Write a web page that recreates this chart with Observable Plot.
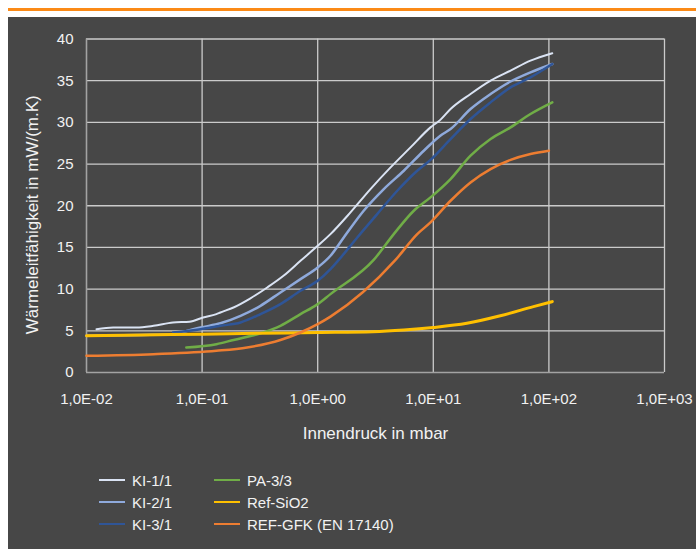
<!DOCTYPE html>
<html>
<head>
<meta charset="utf-8">
<script src="https://cdn.jsdelivr.net/npm/d3@7"></script>
<script src="https://cdn.jsdelivr.net/npm/@observablehq/plot@0.6"></script>
<style>
  body { margin: 0; background: #ffffff; font-family: "Liberation Sans", Arial, sans-serif; }
  #bar { position: absolute; left: 8px; top: 8px; width: 688px; height: 3px; background: #fb8a17; }
  #panel { position: absolute; left: 8px; top: 17px; width: 688px; height: 532px; background: #474747; overflow: hidden; }
  #chart { position: absolute; left: 0; top: 0; }
  #legend { position: absolute; left: 91px; top: 452px; display: grid; grid-template-columns: 115px 220px;
            grid-template-rows: repeat(3, 22px); grid-auto-flow: column; }
  .item { display: flex; align-items: center; color: #f2f2f2; font-size: 15px; white-space: nowrap; }
  .sw { width: 26px; height: 2.5px; margin-right: 7px; flex: none; }
</style>
</head>
<body>
<div id="bar"></div>
<div id="panel">
  <div id="chart"></div>
  <div id="legend"></div>
</div>
<script>
// ---- data (pressure in mbar, thermal conductivity in mW/(m.K)) ----
const seriesNames = ["KI-1/1", "KI-2/1", "KI-3/1", "PA-3/3", "Ref-SiO2", "REF-GFK (EN 17140)"];
const seriesColors = ["#dae3f3", "#8faadc", "#2f5597", "#70ad47", "#ffc000", "#ed7d31"];

const KI_1_1 = [[0.0122,5.2],[0.017,5.4],[0.027,5.4],[0.038,5.6],[0.056,6.0],[0.078,6.1],[0.102,6.6],[0.133,7.0],
  [0.144,7.2],[0.187,7.8],[0.262,8.9],[0.366,10.2],[0.506,11.6],[0.71,13.4],[1.0,15.2],[1.29,16.6],[1.92,19.2],
  [2.86,22.0],[4.27,24.6],[6.35,27.0],[9.46,29.4],[11.5,30.3],[14.1,31.6],[21,33.4],[31.3,35.0],[46.6,36.2],
  [69.3,37.4],[107,38.3]];
const KI_2_1 = [[0.01,4.4],[0.03,4.5],[0.056,4.6],[0.07,4.9],[0.097,5.4],[0.144,5.9],[0.215,6.8],[0.32,8.0],
  [0.476,9.6],[0.71,11.2],[1.0,12.6],[1.29,14.0],[1.68,16.2],[2.5,19.4],[3.73,22.0],[5.56,24.2],[8.28,26.6],
  [11.5,28.4],[14.1,29.2],[21,31.6],[31.3,33.4],[46.6,34.9],[69.3,36.0],[107,37.0]];
const KI_3_1 = [[0.056,4.8],[0.097,5.2],[0.144,5.6],[0.215,6.0],[0.32,7.0],[0.476,8.2],[0.71,9.8],[1.0,11.0],
  [1.29,12.4],[1.52,13.5],[2.2,16.2],[3.27,19.0],[4.88,21.8],[7.26,24.2],[9.46,25.5],[14.1,28.0],[21,30.4],
  [31.3,32.4],[46.6,34.2],[69.3,35.4],[107,37.0]];
const PA_3_3 = [[0.073,3.0],[0.133,3.4],[0.187,3.9],[0.32,4.7],[0.476,5.6],[0.71,7.0],[1.0,8.2],[1.29,9.4],
  [3.05,13.5],[4.55,16.6],[6.78,19.4],[9.46,21.0],[14.1,23.2],[21,26.0],[31.3,28.0],[46.6,29.4],[69.3,31.0],[107,32.4]];
const REF_SIO2 = [[0.01,4.4],[0.03,4.5],[0.1,4.6],[0.3,4.7],[1.0,4.8],[3.0,4.9],[5.56,5.1],[10,5.4],[19.5,5.9],
  [38,6.8],[73.5,7.9],[107,8.5]];
const REF_GFK = [[0.01,2.0],[0.038,2.2],[0.133,2.6],[0.245,3.0],[0.476,3.9],[0.71,4.8],[1.0,5.8],[1.29,6.7],
  [4.71,13.5],[7.26,16.6],[9.46,18.0],[14.1,20.6],[21,22.8],[31.3,24.4],[46.6,25.5],[69.3,26.2],[100,26.6]];
const seriesData = [KI_1_1, KI_2_1, KI_3_1, PA_3_3, REF_SIO2, REF_GFK];
const seriesWidths = [2, 2.5, 2.5, 2.5, 3, 2.5];

const ticksX = [0.01, 0.1, 1, 10, 100, 1000];
const tickLabelsX = ["1,0E-02", "1,0E-01", "1,0E+00", "1,0E+01", "1,0E+02", "1,0E+03"];
const ticksY = [0, 5, 10, 15, 20, 25, 30, 35, 40];
const xTitle = "Innendruck in mbar";
const yTitle = "Wärmeleitfähigkeit in mW/(m.K)";

const lineMarks = seriesData.map((data, i) =>
  Plot.line(data, {x: d => d[0], y: d => d[1], stroke: seriesColors[i], strokeWidth: seriesWidths[i], curve: "monotone-x"})
);

const chart = Plot.plot({
  width: 688,
  height: 440,
  marginLeft: 78,
  marginRight: 32,
  marginTop: 21.5,
  marginBottom: 85,
  style: {background: "transparent", color: "#f2f2f2", fontFamily: "'Liberation Sans', Arial, sans-serif", fontSize: "15px"},
  x: {type: "log", domain: [0.01, 1000]},
  y: {domain: [0, 40]},
  marks: [
    Plot.gridY(ticksY.slice(1), {stroke: "#cbcbcb", strokeOpacity: 1, strokeWidth: 1.3}),
    Plot.gridX(ticksX.slice(1), {stroke: "#cbcbcb", strokeOpacity: 1, strokeWidth: 1.3}),
    Plot.ruleX([ticksX[0]], {stroke: "#a3a3a3", strokeWidth: 1.6}),
    Plot.ruleY([ticksY[0]], {stroke: "#a3a3a3", strokeWidth: 1.6}),
    Plot.axisY(ticksY, {tickSize: 0, tickPadding: 13, label: null, fontSize: 15}),
    Plot.axisX(ticksX, {tickSize: 0, tickPadding: 21, label: null, fontSize: 15,
      tickFormat: d => tickLabelsX[ticksX.indexOf(d)]}),
    ...lineMarks,
    Plot.text([yTitle], {text: d => d, frameAnchor: "left", textAnchor: "middle", dx: -54, dy: 9, rotate: -90, fontSize: 17, fill: "#f2f2f2"}),
    Plot.text([xTitle], {text: d => d, frameAnchor: "bottom", dy: 66, fontSize: 17, fill: "#f2f2f2"})
  ]
});
document.getElementById("chart").appendChild(chart);

const legend = document.getElementById("legend");
seriesNames.forEach((name, i) => {
  const item = document.createElement("div");
  item.className = "item";
  const sw = document.createElement("span");
  sw.className = "sw";
  sw.style.background = seriesColors[i];
  item.appendChild(sw);
  item.appendChild(document.createTextNode(name));
  legend.appendChild(item);
});
</script>
</body>
</html>
